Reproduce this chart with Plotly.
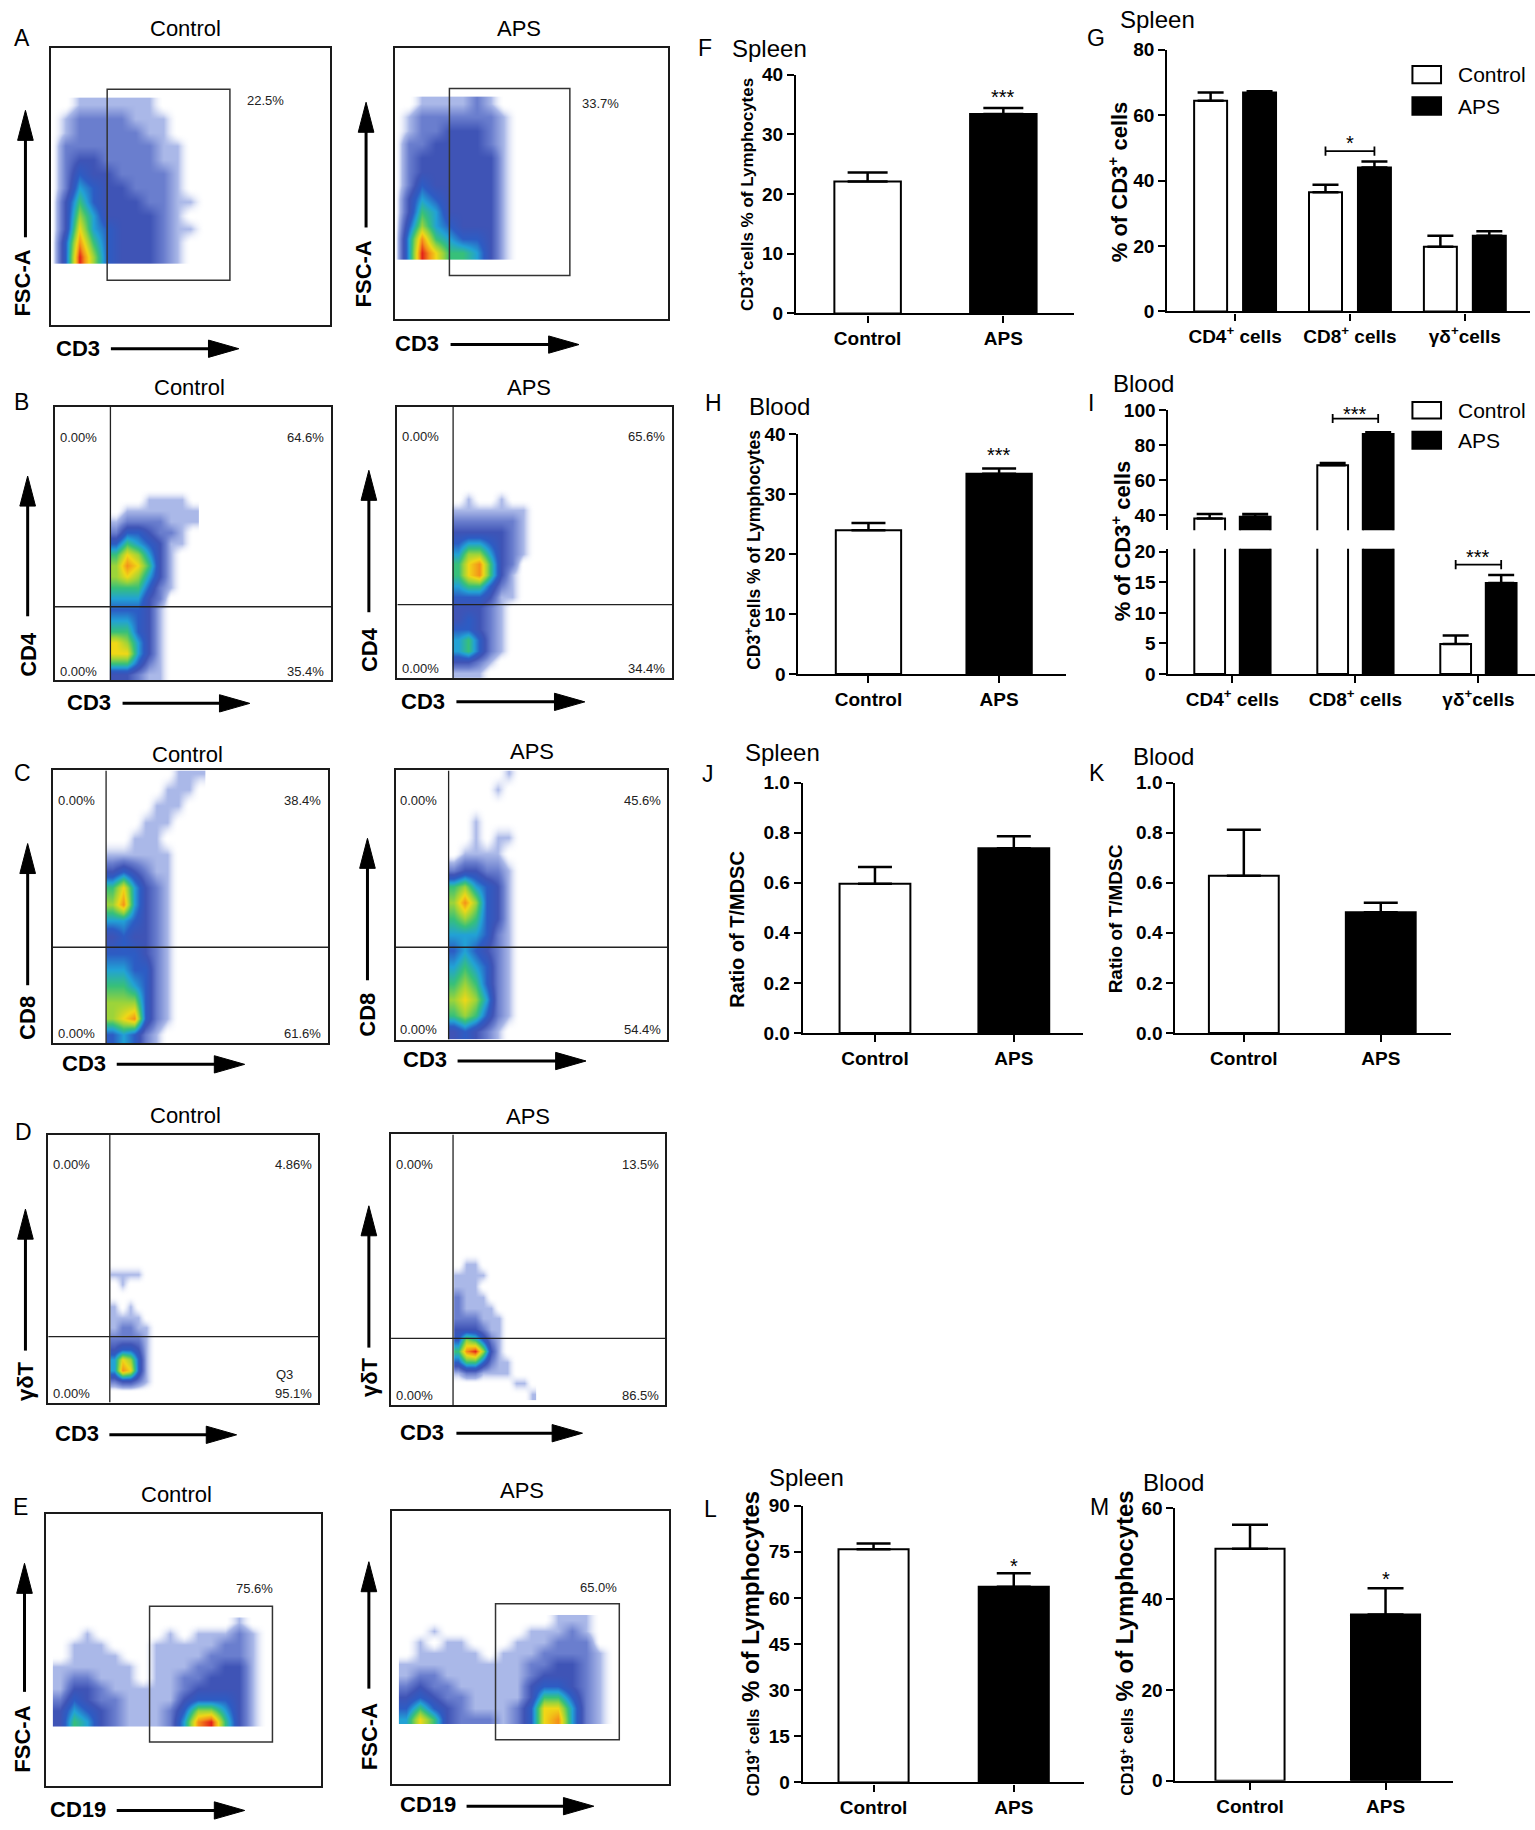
import plotly.graph_objects as go

# ---------------- bar chart values (mean and upper SEM) ----------------
groups = ["Control", "APS"]

spleen_cd3 = [22.1, 33.4]          # F
spleen_cd3_sem = [1.5, 1.0]
blood_cd3 = [24.0, 33.4]           # H
blood_cd3_sem = [1.2, 0.9]

subsets = ["CD4<sup>+</sup> cells", "CD8<sup>+</sup> cells", "γδ<sup>+</sup>cells"]
spleen_sub_ctrl = [64.4, 36.4, 19.8]      # G
spleen_sub_ctrl_sem = [2.5, 2.3, 3.3]
spleen_sub_aps = [66.9, 44.0, 23.1]
spleen_sub_aps_sem = [0.4, 1.8, 1.4]
blood_sub_ctrl = [38.1, 68.5, 4.9]        # I
blood_sub_ctrl_sem = [2.5, 1.3, 1.4]
blood_sub_aps = [39.1, 86.4, 14.9]
blood_sub_aps_sem = [1.5, 1.0, 1.3]

spleen_ratio = [0.596, 0.738]      # J
spleen_ratio_sem = [0.067, 0.048]
blood_ratio = [0.628, 0.482]       # K
blood_ratio_sem = [0.184, 0.038]

spleen_cd19 = [75.8, 63.6]         # L
spleen_cd19_sem = [1.9, 4.4]
blood_cd19 = [51.1, 36.6]          # M
blood_cd19_sem = [5.3, 5.8]

# ---------------- flow plots: gate percentages ----------------
a_pct = ["22.5%", "33.7%"]
b_ctrl_q = ["0.00%", "64.6%", "0.00%", "35.4%"]
b_aps_q = ["0.00%", "65.6%", "0.00%", "34.4%"]
c_ctrl_q = ["0.00%", "38.4%", "0.00%", "61.6%"]
c_aps_q = ["0.00%", "45.6%", "0.00%", "54.4%"]
d_ctrl_q = ["0.00%", "4.86%", "0.00%", "95.1%"]
d_aps_q = ["0.00%", "13.5%", "0.00%", "86.5%"]
e_pct = ["75.6%", "65.0%"]

# ---------------- flow plots: event density ----------------
# (box units 0-100, rows bottom -> top, 0 = empty, 10 = densest)
a_x = [0, 5, 10, 15, 20, 25, 30, 35, 40, 45, 50, 55, 60]
a_y = [24.5, 29.5, 34.5, 39.5, 44.5, 49.5, 54.5, 59.5, 64.5, 69.5, 74.5, 79.5]
a_ctrl_z = [
    [0, 4, 10, 7, 4, 3, 3, 3, 2, 1, 0, 0, 0],
    [0, 4, 9, 6, 4, 3, 3, 3, 2, 1, 0, 0, 0],
    [0, 3, 8, 5, 4, 3, 3, 3, 2, 1, 1, 0, 0],
    [0, 3, 7, 5, 3, 3, 3, 3, 2, 1, 0, 0, 0],
    [0, 3, 6, 4, 3, 3, 3, 2, 2, 1, 1, 0, 0],
    [0, 2, 5, 4, 3, 3, 2, 2, 2, 1, 0, 0, 0],
    [0, 2, 4, 3, 3, 2, 2, 2, 2, 1, 0, 0, 0],
    [0, 2, 3, 3, 2, 2, 2, 2, 1, 1, 0, 0, 0],
    [0, 2, 2, 2, 2, 2, 2, 2, 1, 1, 0, 0, 0],
    [0, 1, 2, 2, 2, 2, 2, 1, 1, 0, 0, 0, 0],
    [0, 1, 2, 2, 2, 2, 1, 1, 1, 0, 0, 0, 0],
    [0, 0, 1, 1, 1, 1, 1, 1, 0, 0, 0, 0, 0],
]
a_aps_z = [
    [0, 5, 10, 8, 6, 6, 5, 3, 1, 0, 0, 0, 0],
    [0, 5, 9, 6, 5, 4, 4, 3, 1, 0, 0, 0, 0],
    [0, 4, 7, 5, 4, 3, 3, 3, 1, 0, 0, 0, 0],
    [0, 3, 6, 5, 3, 3, 3, 3, 1, 0, 0, 0, 0],
    [0, 3, 5, 4, 3, 3, 3, 3, 1, 0, 0, 0, 0],
    [0, 2, 4, 3, 3, 3, 3, 3, 1, 0, 0, 0, 0],
    [0, 2, 3, 3, 3, 3, 3, 3, 1, 0, 0, 0, 0],
    [0, 2, 3, 3, 3, 3, 3, 3, 1, 0, 0, 0, 0],
    [0, 2, 2, 3, 3, 3, 3, 2, 1, 0, 0, 0, 0],
    [0, 1, 2, 2, 3, 3, 3, 2, 1, 0, 0, 0, 0],
    [0, 1, 2, 2, 2, 2, 2, 2, 1, 0, 0, 0, 0],
    [0, 0, 1, 1, 1, 1, 2, 1, 0, 0, 0, 0, 0],
]

b_x = [22, 26, 30, 34, 38, 42, 46, 50]
b_y = [2, 6, 10, 14, 18, 22, 26, 30, 34, 38, 42, 46, 50, 54, 58, 62, 66, 70]
b_ctrl_z = [
    [3, 3, 2, 1, 1, 0, 0, 0],
    [6, 6, 4, 2, 1, 0, 0, 0],
    [8, 8, 5, 3, 1, 0, 0, 0],
    [8, 7, 5, 3, 1, 0, 0, 0],
    [6, 6, 4, 3, 1, 0, 0, 0],
    [5, 5, 4, 3, 1, 0, 0, 0],
    [4, 4, 4, 3, 1, 0, 0, 0],
    [5, 5, 5, 3, 2, 0, 0, 0],
    [6, 6, 6, 4, 2, 1, 0, 0],
    [7, 8, 7, 5, 3, 1, 0, 0],
    [7, 9, 8, 6, 3, 1, 0, 0],
    [6, 8, 7, 5, 3, 1, 0, 0],
    [4, 6, 5, 4, 3, 1, 1, 0],
    [2, 4, 4, 3, 2, 2, 1, 0],
    [1, 2, 2, 2, 2, 1, 1, 1],
    [0, 1, 1, 1, 1, 1, 1, 1],
    [0, 0, 0, 1, 1, 1, 1, 0],
    [0, 0, 0, 0, 0, 0, 0, 0],
]
b_aps_z = [
    [1, 1, 1, 0, 0, 0, 0, 0],
    [3, 3, 2, 1, 0, 0, 0, 0],
    [5, 6, 4, 2, 1, 0, 0, 0],
    [5, 6, 4, 2, 1, 0, 0, 0],
    [4, 4, 3, 2, 1, 0, 0, 0],
    [3, 4, 3, 2, 1, 0, 0, 0],
    [3, 3, 3, 2, 1, 0, 0, 0],
    [4, 4, 4, 3, 1, 1, 0, 0],
    [5, 6, 6, 4, 2, 1, 0, 0],
    [6, 8, 9, 6, 3, 1, 0, 0],
    [6, 8, 9, 6, 3, 2, 0, 0],
    [5, 7, 7, 5, 3, 2, 1, 0],
    [4, 5, 5, 4, 3, 2, 1, 0],
    [3, 3, 3, 3, 3, 2, 1, 0],
    [2, 2, 2, 2, 2, 2, 1, 0],
    [1, 1, 1, 1, 1, 1, 1, 0],
    [0, 1, 0, 0, 1, 0, 0, 0],
    [0, 0, 0, 0, 0, 0, 0, 0],
]

c_x = [21.5, 25.5, 29.5, 33.5, 37.5, 41.5, 45.5, 49.5, 53.5]
c_y = [3, 9, 15, 21, 27, 33, 39, 45, 51, 57, 63, 69, 75, 81, 87, 93, 99]
c_ctrl_z = [
    [4, 5, 4, 2, 1, 0, 0, 0, 0],
    [7, 8, 9, 4, 2, 1, 0, 0, 0],
    [7, 7, 7, 4, 2, 1, 0, 0, 0],
    [6, 6, 5, 4, 2, 1, 0, 0, 0],
    [5, 5, 4, 4, 2, 1, 0, 0, 0],
    [4, 4, 4, 3, 2, 1, 0, 0, 0],
    [3, 4, 3, 3, 2, 1, 0, 0, 0],
    [5, 5, 4, 3, 2, 1, 0, 0, 0],
    [7, 9, 5, 3, 2, 1, 0, 0, 0],
    [6, 8, 5, 3, 2, 1, 0, 0, 0],
    [3, 4, 3, 2, 1, 1, 0, 0, 0],
    [1, 1, 1, 1, 1, 1, 0, 0, 0],
    [0, 0, 1, 1, 1, 0, 0, 0, 0],
    [0, 0, 0, 1, 1, 1, 0, 0, 0],
    [0, 0, 0, 0, 1, 1, 1, 0, 0],
    [0, 0, 0, 0, 0, 1, 1, 1, 0],
    [0, 0, 0, 0, 0, 0, 1, 1, 1],
]
c_aps_z = [
    [3, 4, 3, 2, 1, 0, 0, 0, 0],
    [6, 7, 6, 4, 2, 1, 0, 0, 0],
    [7, 8, 7, 5, 2, 1, 0, 0, 0],
    [6, 7, 6, 4, 2, 1, 0, 0, 0],
    [5, 6, 5, 4, 2, 1, 0, 0, 0],
    [4, 5, 4, 3, 2, 1, 0, 0, 0],
    [5, 5, 5, 4, 2, 1, 0, 0, 0],
    [6, 7, 6, 4, 3, 1, 0, 0, 0],
    [7, 9, 7, 4, 3, 1, 0, 0, 0],
    [6, 7, 5, 4, 3, 1, 0, 0, 0],
    [2, 3, 3, 2, 2, 1, 0, 0, 0],
    [0, 1, 1, 1, 1, 0, 0, 0, 0],
    [0, 0, 1, 0, 1, 1, 0, 0, 0],
    [0, 0, 1, 0, 0, 0, 0, 0, 0],
    [0, 0, 0, 0, 0, 0, 0, 0, 0],
    [0, 0, 0, 0, 1, 0, 0, 0, 0],
    [0, 0, 0, 0, 0, 1, 0, 0, 0],
]

d_x = [24.5, 27.5, 30.5, 33.5, 36.5, 39.5, 42.5, 45.5, 48.5, 51.5]
d_y = [4, 8, 12, 16, 20, 24, 28, 32, 36, 40, 44, 48, 52, 56]
d_ctrl_z = [
    [0, 0, 0, 0, 0, 0, 0, 0, 0, 0],
    [2, 3, 3, 2, 1, 0, 0, 0, 0, 0],
    [5, 9, 8, 4, 1, 0, 0, 0, 0, 0],
    [5, 8, 7, 4, 1, 0, 0, 0, 0, 0],
    [3, 4, 4, 3, 1, 0, 0, 0, 0, 0],
    [2, 2, 2, 2, 1, 0, 0, 0, 0, 0],
    [1, 2, 2, 1, 1, 0, 0, 0, 0, 0],
    [1, 1, 1, 1, 0, 0, 0, 0, 0, 0],
    [1, 0, 1, 0, 0, 0, 0, 0, 0, 0],
    [0, 0, 0, 0, 0, 0, 0, 0, 0, 0],
    [0, 1, 0, 0, 0, 0, 0, 0, 0, 0],
    [1, 1, 1, 1, 0, 0, 0, 0, 0, 0],
    [0, 0, 0, 0, 0, 0, 0, 0, 0, 0],
    [0, 0, 0, 0, 0, 0, 0, 0, 0, 0],
]
d_aps_z = [
    [0, 0, 0, 0, 0, 0, 0, 0, 0, 1],
    [0, 0, 0, 0, 0, 0, 0, 1, 1, 0],
    [1, 2, 2, 1, 1, 1, 1, 0, 0, 0],
    [4, 6, 6, 4, 2, 1, 1, 0, 0, 0],
    [6, 9, 10, 7, 3, 1, 0, 0, 0, 0],
    [4, 7, 6, 4, 2, 1, 0, 0, 0, 0],
    [3, 3, 3, 2, 1, 1, 0, 0, 0, 0],
    [2, 2, 2, 1, 1, 1, 0, 0, 0, 0],
    [2, 1, 1, 1, 1, 0, 0, 0, 0, 0],
    [2, 1, 1, 1, 0, 0, 0, 0, 0, 0],
    [1, 1, 1, 0, 0, 0, 0, 0, 0, 0],
    [1, 1, 1, 1, 0, 0, 0, 0, 0, 0],
    [0, 1, 1, 0, 0, 0, 0, 0, 0, 0],
    [0, 0, 0, 0, 0, 0, 0, 0, 0, 0],
]

e_x = [5, 10, 15, 20, 25, 30, 35, 40, 45, 50, 55, 60, 65, 70, 75, 80]
e_y = [24, 28, 32, 36, 40, 44, 48, 52, 56, 60]
e_ctrl_z = [
    [3, 6, 5, 3, 2, 1, 1, 1, 2, 5, 9, 10, 6, 3, 1, 0],
    [3, 5, 4, 3, 2, 1, 1, 1, 2, 4, 7, 7, 5, 3, 1, 0],
    [2, 4, 3, 2, 2, 1, 1, 1, 1, 3, 4, 4, 4, 3, 1, 0],
    [1, 3, 3, 2, 1, 1, 1, 1, 1, 2, 3, 3, 3, 3, 1, 0],
    [1, 2, 2, 1, 1, 1, 0, 1, 1, 2, 2, 3, 3, 3, 1, 0],
    [1, 1, 1, 1, 1, 1, 0, 1, 1, 1, 2, 2, 3, 3, 1, 0],
    [0, 1, 1, 1, 1, 0, 0, 1, 1, 1, 1, 2, 2, 2, 1, 0],
    [0, 1, 1, 1, 0, 0, 0, 1, 1, 1, 1, 1, 2, 2, 1, 0],
    [0, 0, 1, 0, 0, 0, 0, 0, 1, 0, 1, 1, 1, 2, 1, 0],
    [0, 0, 0, 0, 0, 0, 0, 0, 0, 0, 0, 0, 0, 1, 0, 0],
]
e_aps_z = [
    [5, 8, 6, 3, 2, 2, 2, 1, 2, 4, 8, 9, 5, 2, 1, 0],
    [4, 6, 4, 3, 2, 1, 1, 1, 2, 4, 8, 8, 5, 2, 1, 0],
    [3, 4, 3, 2, 2, 1, 1, 1, 1, 3, 6, 6, 4, 2, 1, 0],
    [2, 3, 2, 2, 1, 1, 1, 1, 1, 3, 4, 4, 3, 2, 1, 0],
    [1, 2, 2, 1, 1, 1, 1, 1, 1, 2, 3, 3, 3, 2, 1, 0],
    [1, 1, 1, 1, 1, 1, 1, 1, 1, 2, 2, 3, 3, 2, 1, 0],
    [0, 1, 1, 1, 1, 1, 0, 1, 1, 1, 2, 2, 2, 2, 1, 0],
    [0, 1, 0, 1, 1, 0, 0, 0, 1, 1, 1, 2, 2, 2, 0, 0],
    [0, 0, 1, 0, 0, 0, 0, 0, 0, 1, 1, 1, 2, 1, 0, 0],
    [0, 0, 0, 0, 0, 0, 0, 0, 0, 0, 0, 1, 1, 1, 0, 0],
]

# ---------------- layout helpers ----------------
FONT = "Liberation Sans, Arial, sans-serif"
W0, H0 = 1315, 1568   # grid the positions below were measured on


def fx(x):
    return x / W0


def fy(y):
    return 1 - y / H0


DENSITY = [
    [0.0, "rgba(255,255,255,0)"], [0.1, "#aab8e8"], [0.2, "#6a7ece"],
    [0.3, "#3f54b6"], [0.4, "#2d5cc4"], [0.5, "#22a2d6"], [0.6, "#37c07a"],
    [0.7, "#9cd43a"], [0.8, "#f0d817"], [0.9, "#f5901a"], [1.0, "#e3201a"],
]

fig = go.Figure()
layout = dict(width=1535, height=1830, margin=dict(l=0, r=0, t=0, b=0),
              paper_bgcolor="white", plot_bgcolor="rgba(0,0,0,0)",
              showlegend=False, font=dict(family=FONT, color="black"))
shapes = []
annotations = []


def names(n):
    s = "" if n == 1 else str(n)
    return "xaxis" + s, "yaxis" + s, "x" + s, "y" + s


def text(t, x, y, size, bold=False, angle=0, xanchor="center"):
    annotations.append(dict(text=t, x=fx(x), y=fy(y), xref="paper", yref="paper",
                            showarrow=False, textangle=angle, xanchor=xanchor,
                            yanchor="middle",
                            font=dict(size=size, family=FONT, color="black",
                                      weight="bold" if bold else "normal")))


def line(x0, y0, x1, y1, width=3):
    shapes.append(dict(type="line", xref="paper", yref="paper", x0=fx(x0), y0=fy(y0),
                       x1=fx(x1), y1=fy(y1), line=dict(color="black", width=width)))


def tri(points):
    p = " L ".join(f"{fx(a):.5f},{fy(b):.5f}" for a, b in points)
    shapes.append(dict(type="path", xref="paper", yref="paper", path="M " + p + " Z",
                       fillcolor="black", line=dict(color="black", width=1)))


def arrow_up(x, tail, head):
    line(x, tail, x, head + 20)
    tri([(x - 6.7, head + 26), (x + 6.7, head + 26), (x, head)])


def arrow_right(y, tail, head):
    line(tail, y, head - 20, y)
    tri([(head - 26, y - 7.5), (head - 26, y + 7.5), (head, y)])


def flow_panel(n, box, gx, gy, gz, title, title_xy, ylab, ylab_xy, yarr,
               xlab, xlab_xy, xarr):
    xa, ya, xr, yr = names(n)
    l, t, r, b = box
    common = dict(range=[0, 100], showline=True, mirror=True, linecolor="#1a1a1a",
                  linewidth=1.5, showticklabels=False, ticks="", showgrid=False,
                  zeroline=False, fixedrange=True)
    layout[xa] = dict(domain=[fx(l), fx(r)], anchor=yr, **common)
    layout[ya] = dict(domain=[fy(b), fy(t)], anchor=xr, **common)
    fig.add_trace(go.Heatmap(x=gx, y=gy, z=gz, xaxis=xr, yaxis=yr, colorscale=DENSITY,
                             zmin=0, zmax=10, zsmooth="best", showscale=False,
                             hoverinfo="skip"))
    text(title, *title_xy, 22)
    text(ylab, *ylab_xy, 22, bold=True, angle=-90)
    arrow_up(*yarr)
    text(xlab, *xlab_xy, 22, bold=True)
    arrow_right(*xarr)
    return xr, yr


def data_text(t, xr, yr, x, y, size=13):
    annotations.append(dict(text=t, x=x, y=y, xref=xr, yref=yr, showarrow=False,
                            font=dict(size=size, family=FONT, color="#222")))


def gate(xr, yr, x0, x1, y0, y1):
    shapes.append(dict(type="rect", xref=xr, yref=yr, x0=x0, x1=x1, y0=y0, y1=y1,
                       line=dict(color="#333", width=1.5)))


def quads(xr, yr, qx, qy, labels, pos):
    shapes.append(dict(type="line", xref=xr, yref=yr, x0=qx, x1=qx, y0=0, y1=100,
                       line=dict(color="#222", width=1.3)))
    shapes.append(dict(type="line", xref=xr, yref=yr, x0=0, x1=100, y0=qy, y1=qy,
                       line=dict(color="#222", width=1.3)))
    ytop, ybot = pos
    for t, (x, y) in zip(labels, [(8.5, ytop), (90.8, ytop), (8.5, ybot), (90.8, ybot)]):
        data_text(t, xr, yr, x, y)


# ---------------- flow panels A-E ----------------
xr, yr = flow_panel(1, (44, 32.8, 283, 272.7), a_x, a_y, a_ctrl_z, "Control", (158.7, 15.7),
                    "FSC-A", (19, 237), (21.8, 197, 87), "CD3", (67, 293), (293.6, 95, 204.6))
gate(xr, yr, 20, 64, 16, 85)
data_text(a_pct[0], xr, yr, 76.8, 81)
xr, yr = flow_panel(2, (338.1, 32.8, 572.6, 267.8), a_x, a_y, a_aps_z, "APS", (444.5, 15.7),
                    "FSC-A", (311.7, 228.5), (313.6, 188.5, 80), "CD3", (357.6, 289), (290, 386, 496))
gate(xr, yr, 20, 64, 16, 85)
data_text(a_pct[1], xr, yr, 75.2, 79.6)

xr, yr = flow_panel(3, (46.7, 344, 283.8, 581), b_x, b_y, b_ctrl_z, "Control", (162.6, 327),
                    "CD4", (23.7, 558.3), (23.7, 525.5, 404), "CD3", (76.5, 600), (601, 105, 214))
quads(xr, yr, 20.2, 26.9, b_ctrl_q, (88.8, 3.2))
xr, yr = flow_panel(4, (340.4, 344, 575.7, 579.1), b_x, b_y, b_aps_z, "APS", (453, 327),
                    "CD4", (316, 554), (316, 522, 399), "CD3", (362.6, 599), (599.7, 391, 501))
quads(xr, yr, 20.3, 27.1, b_aps_q, (89, 3.4))

xr, yr = flow_panel(5, (45.1, 659.1, 281.1, 895.3), c_x, c_y, c_ctrl_z, "Control", (160.7, 645.4),
                    "CD8", (23.7, 873.9), (23.7, 845.3, 722.5), "CD3", (71.9, 913), (913.9, 100, 209.6))
quads(xr, yr, 19.4, 35.1, c_ctrl_q, (88.9, 3.6))
xr, yr = flow_panel(6, (338.9, 659.1, 571.8, 892.4), c_x, c_y, c_aps_z, "APS", (456, 642.6),
                    "CD8", (314.8, 870.5), (314.8, 841, 718), "CD3", (364, 910), (911, 392, 502))
quads(xr, yr, 19.5, 34.3, c_aps_q, (88.7, 3.7))

xr, yr = flow_panel(7, (41.3, 975.1, 272.7, 1207), d_x, d_y, d_ctrl_z, "Control", (158.7, 958),
                    "γδT", (21.8, 1188), (21.8, 1162, 1039.4), "CD3", (65.8, 1234.2), (1235, 93.7, 202.7))
quads(xr, yr, 22.8, 24.6, d_ctrl_q, (88.9, 3.3))
data_text("Q3", xr, yr, 87.4, 10.3)
xr, yr = flow_panel(8, (335, 974.6, 570, 1209.3), d_x, d_y, d_aps_z, "APS", (452.5, 959.4),
                    "γδT", (316, 1185), (316, 1159.4, 1036.5), "CD3", (361.5, 1232.8), (1233.6, 391, 499))
quads(xr, yr, 22.6, 24.7, d_aps_q, (88.8, 3.6))

xr, yr = flow_panel(9, (39.4, 1303.6, 275.4, 1539.8), e_x, e_y, e_ctrl_z, "Control", (151, 1286.4),
                    "FSC-A", (19.1, 1499), (21, 1457.8, 1346.4), "CD19", (67, 1559.7), (1560.6, 100, 209.6))
gate(xr, yr, 37.6, 82.2, 16.3, 66.1)
data_text(e_pct[0], xr, yr, 75.7, 72.5)
xr, yr = flow_panel(10, (335.8, 1301.3, 573, 1537.8), e_x, e_y, e_aps_z, "APS", (447.5, 1283.6),
                    "FSC-A", (316, 1496.3), (316, 1455, 1345), "CD19", (367, 1555.8), (1556.9, 399.7, 508.7))
gate(xr, yr, 37.4, 82.1, 16.3, 66.1)
data_text(e_pct[1], xr, yr, 74.5, 72.1)

for letter, (x, y) in zip("ABCDE", [(19, 24), (18.4, 339.8), (19, 661), (20, 972.3), (17.2, 1297.9)]):
    text(letter, x, y, 23)

# ---------------- bar panels F-M ----------------
AXLINE = dict(showline=True, linecolor="black", linewidth=2.2, ticks="outside",
              ticklen=7, tickwidth=2, tickcolor="black", showgrid=False,
              zeroline=False, fixedrange=True)


def bar_axes(n, x0, x1, ytop, ybot, xrange, yrange, tickvals, cats, fmt=None, xsize=19):
    xa, ya, xr, yr = names(n)
    layout[xa] = dict(domain=[fx(x0), fx(x1)], range=xrange, type="category",
                      categoryorder="array", categoryarray=cats, anchor=yr,
                      tickfont=dict(size=xsize, family=FONT, weight="bold"), **AXLINE)
    layout[ya] = dict(domain=[fy(ybot), fy(ytop)], range=yrange, tickvals=tickvals,
                      tickformat=fmt, anchor=xr,
                      tickfont=dict(size=19, family=FONT, weight="bold"), **AXLINE)
    return xr, yr


def err(sem, cap):
    return dict(type="data", symmetric=False, array=sem, arrayminus=[0] * len(sem),
                color="black", thickness=2.5, width=cap)


def pair_bars(xr, yr, vals, sem, width, cap):
    fig.add_trace(go.Bar(x=groups, y=vals, width=width, xaxis=xr, yaxis=yr,
                         marker=dict(color=["white", "black"], line=dict(color="black", width=2)),
                         error_y=err(sem, cap), hoverinfo="skip"))


def group_bars(xr, yr, ctrl, ctrl_sem, aps, aps_sem, width, gap, cap):
    fig.add_trace(go.Bar(x=subsets, y=ctrl, width=width, offset=-(width + gap / 2),
                         xaxis=xr, yaxis=yr, error_y=err(ctrl_sem, cap), hoverinfo="skip",
                         marker=dict(color="white", line=dict(color="black", width=2))))
    fig.add_trace(go.Bar(x=subsets, y=aps, width=width, offset=gap / 2,
                         xaxis=xr, yaxis=yr, error_y=err(aps_sem, cap), hoverinfo="skip",
                         marker=dict(color="black", line=dict(color="black", width=2))))


def stars(t, xr, yr, x, y, shift=0):
    annotations.append(dict(text=t, x=x, y=y, xref=xr, yref=yr, showarrow=False,
                            yanchor="bottom", yshift=shift,
                            font=dict(size=20, family=FONT, color="black")))


def bracket(xr, yr, xa, xb, y, half):
    for x0, x1, y0, y1 in [(xa, xb, y, y), (xa, xa, y - half, y + half), (xb, xb, y - half, y + half)]:
        shapes.append(dict(type="line", xref=xr, yref=yr, x0=x0, x1=x1, y0=y0, y1=y1,
                           line=dict(color="black", width=1.8)))


def legend(y_ctrl, y_aps):
    for (top, bot), fill, label in [(y_ctrl, "white", "Control"), (y_aps, "black", "APS")]:
        shapes.append(dict(type="rect", xref="paper", yref="paper", x0=fx(1210), x1=fx(1234.5),
                           y0=fy(bot), y1=fy(top), fillcolor=fill,
                           line=dict(color="black", width=2)))
        text(label, 1247.5, (top + bot) / 2, 21, xanchor="left")


# F  spleen CD3+
xr, yr = bar_axes(11, 682, 920, 56, 263, [-0.527, 1.52], [0, 40], [0, 10, 20, 30, 40], groups)
pair_bars(xr, yr, spleen_cd3, spleen_cd3_sem, 0.49, 20)
stars("***", xr, yr, 1, spleen_cd3[1] + spleen_cd3_sem[1], -2)

# G  spleen subsets
xr, yr = bar_axes(12, 1000, 1311, 34.3, 261.3, [-0.59, 2.57], [0, 80], [0, 20, 40, 60, 80],
                  subsets)
group_bars(xr, yr, spleen_sub_ctrl, spleen_sub_ctrl_sem, spleen_sub_aps, spleen_sub_aps_sem,
           0.287, 0.139, 13)
bracket(xr, yr, 0.787, 1.213, 49.0, 1.4)
stars("*", xr, yr, 1, 49.0, -5)
legend((48.6, 63.4), (75.7, 90.8))

# H  blood CD3+
xr, yr = bar_axes(13, 684, 913, 367.8, 575.5, [-0.536, 1.51], [0, 40], [0, 10, 20, 30, 40], groups)
pair_bars(xr, yr, blood_cd3, blood_cd3_sem, 0.5, 17)
stars("***", xr, yr, 1, blood_cd3[1] + blood_cd3_sem[1], 0)

# I  blood subsets, broken y axis (lower 0-20, upper 40-100)
xr, yr = bar_axes(14, 1001, 1315, 467, 575.5, [-0.52, 2.46], [0, 20.5], [0, 5, 10, 15, 20],
                  subsets)
group_bars(xr, yr, blood_sub_ctrl, blood_sub_ctrl_sem, blood_sub_aps, blood_sub_aps_sem,
           0.25, 0.12, 13)
bracket(xr, yr, 1.815, 2.185, 17.9, 0.76)
stars("***", xr, yr, 2, 17.9, -5)
xa, ya, xr2, yr2 = names(20)
layout[xa] = dict(domain=[fx(1001), fx(1315)], range=[-0.52, 2.46], type="category",
                  categoryorder="array", categoryarray=subsets, anchor=yr2, visible=False)
layout[ya] = dict(domain=[fy(451), fy(347)], range=[31.3, 100], tickvals=[40, 60, 80, 100],
                  anchor=xr2, tickfont=dict(size=19, family=FONT, weight="bold"), **AXLINE)
group_bars(xr2, yr2, blood_sub_ctrl, blood_sub_ctrl_sem, blood_sub_aps, blood_sub_aps_sem,
           0.25, 0.12, 13)
bracket(xr2, yr2, 0.815, 1.185, 95.3, 2.6)
stars("***", xr2, yr2, 1, 95.3, -8)
legend((339.8, 354.1), (365.6, 380.4))

# J  spleen T/MDSC
xr, yr = bar_axes(15, 687.7, 928, 669.7, 886.7, [-0.52, 1.5], [0, 1],
                  [0, 0.2, 0.4, 0.6, 0.8, 1.0], groups, fmt=".1f")
pair_bars(xr, yr, spleen_ratio, spleen_ratio_sem, 0.51, 17)

# K  blood T/MDSC
xr, yr = bar_axes(16, 1006.9, 1242.7, 669.7, 886.7, [-0.50, 1.51], [0, 1],
                  [0, 0.2, 0.4, 0.6, 0.8, 1.0], groups, fmt=".1f")
pair_bars(xr, yr, blood_ratio, blood_ratio_sem, 0.51, 17)

# L  spleen CD19+
xr, yr = bar_axes(17, 687.7, 929, 1296.4, 1536.3, [-0.505, 1.504], [0, 90],
                  [0, 15, 30, 45, 60, 75, 90], groups)
pair_bars(xr, yr, spleen_cd19, spleen_cd19_sem, 0.5, 17)
stars("*", xr, yr, 1, spleen_cd19[1] + spleen_cd19_sem[1], -6)

# M  blood CD19+
xr, yr = bar_axes(18, 1007, 1245, 1298.7, 1534.9, [-0.55, 1.50], [0, 60],
                  [0, 20, 40, 60], groups)
pair_bars(xr, yr, blood_cd19, blood_cd19_sem, 0.51, 18)
stars("*", xr, yr, 1, blood_cd19[1] + blood_cd19_sem[1], -4)

# panel letters, tissue titles and y titles
for letter, (x, y) in zip("FGHIJKLM", [(604, 33), (939, 24), (611, 341), (935, 341),
                                       (606.5, 662.5), (939.4, 661), (608.8, 1299), (941.7, 1297.8)]):
    text(letter, x, y, 23)
for title, (x, y) in zip(["Spleen", "Spleen", "Blood", "Blood", "Spleen", "Blood", "Spleen", "Blood"],
                         [(659, 33), (992, 8.6), (668, 344), (980, 324), (670, 644),
                          (996.4, 647), (691, 1272), (1005.5, 1276.4)]):
    text(title, x, y, 24)

cd3_title = "CD3<sup>+</sup>cells % of Lymphocytes"
sub_title = "% of CD3<sup>+</sup> cells"
ratio_title = "Ratio of T/MDSC"
cd19_title = "<span style='font-size:16px'>CD19<sup>+</sup> cells</span> % of Lymphocytes"
text(cd3_title, 638.5, 160, 17, bold=True, angle=-90)
text(sub_title, 957.7, 148.5, 22, bold=True, angle=-90)
text(cd3_title, 645, 468, 17.5, bold=True, angle=-90)
text(sub_title, 960, 460, 22, bold=True, angle=-90)
text(ratio_title, 631.6, 797, 20, bold=True, angle=-90)
text(ratio_title, 955.4, 788, 19, bold=True, angle=-90)
text(cd19_title, 643, 1416, 24, bold=True, angle=-90)
text(cd19_title, 963.8, 1416, 24, bold=True, angle=-90)

layout["shapes"] = shapes
layout["annotations"] = annotations
fig.update_layout(**layout)
fig.write_html("out.html", config={"displayModeBar": False},
               post_script="document.body.style.margin = '0px';")
